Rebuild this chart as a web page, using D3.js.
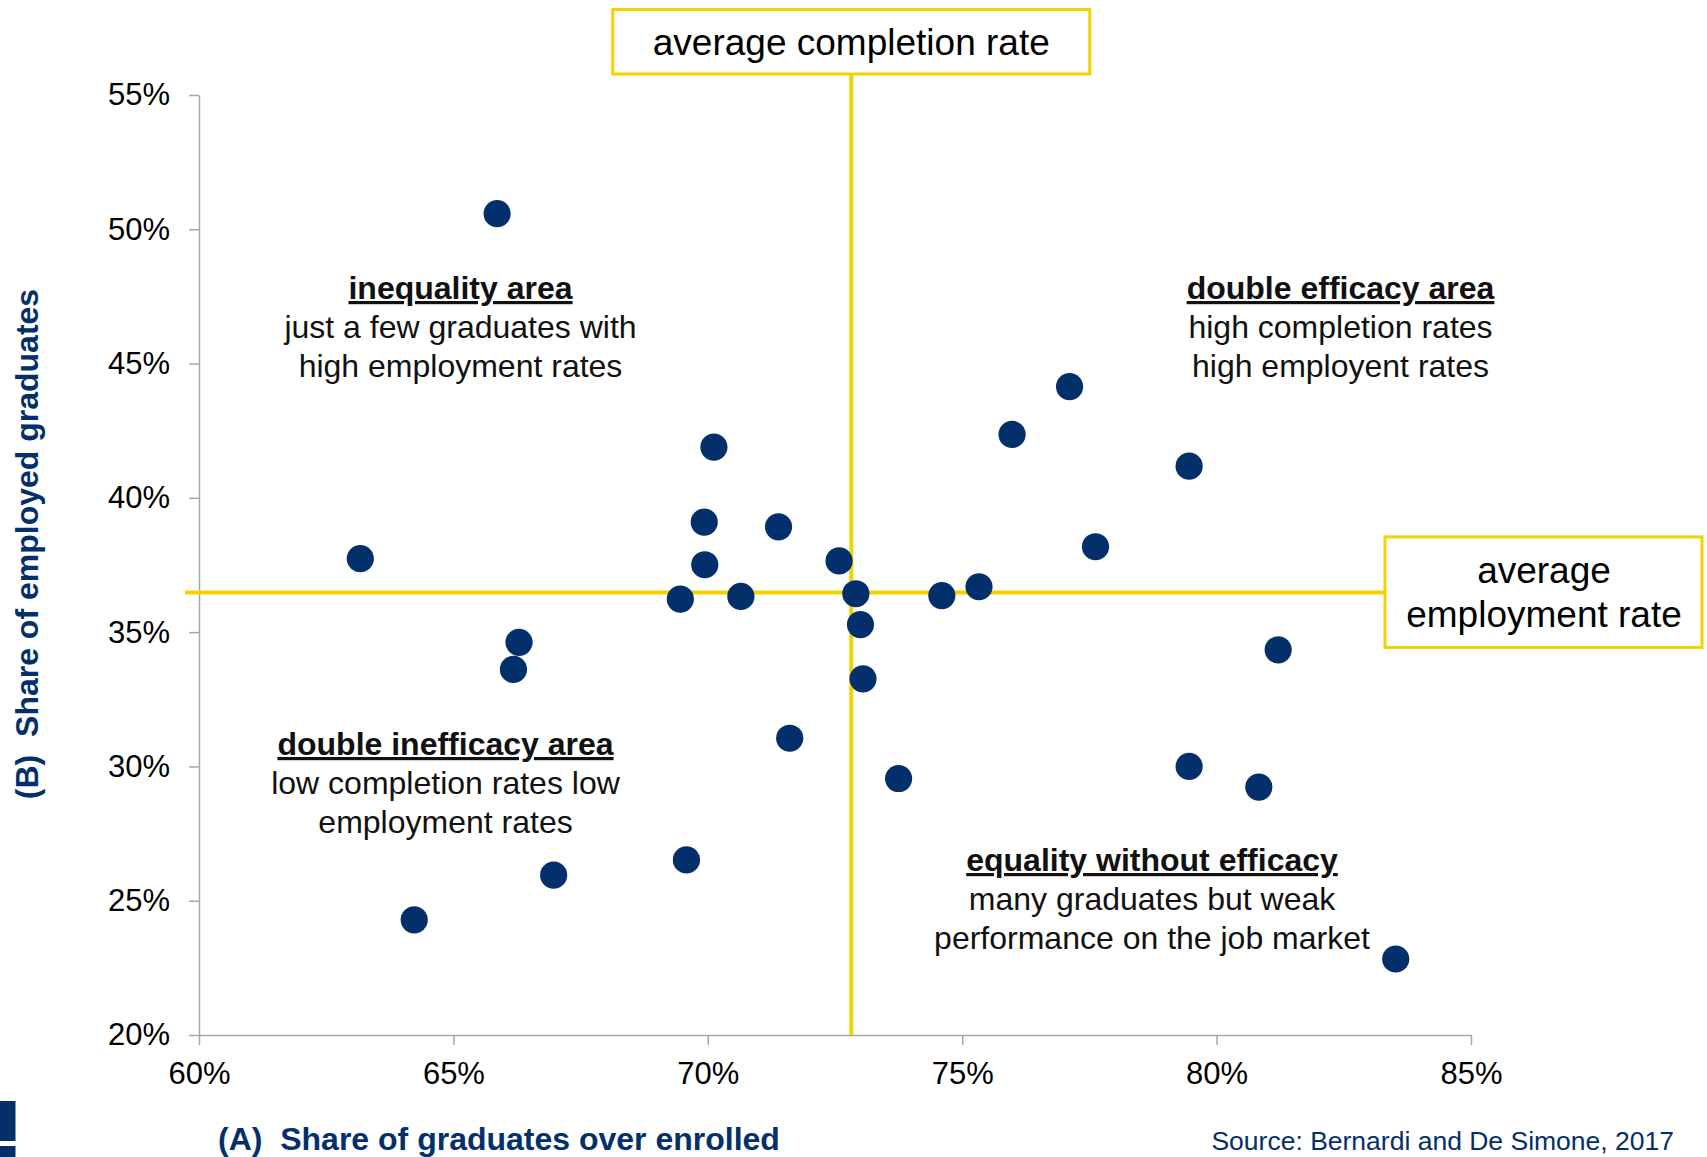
<!DOCTYPE html>
<html>
<head>
<meta charset="utf-8">
<script src="https://cdn.jsdelivr.net/npm/d3@7"></script>
<style>
  body { margin: 0; background: #fff; }
  svg { display: block; font-family: "Liberation Sans", Arial, sans-serif; }
</style>
</head>
<body>
<svg width="1707" height="1157"></svg>
<script>
// completion rate (A) and employment rate (B) per university, in %
var completion = [65.86, 63.17, 66.29, 66.18, 70.12, 69.93, 69.94, 69.46, 70.65, 71.39,
                  72.58, 72.91, 73.00, 73.05, 71.61, 73.75, 69.58, 66.97, 64.23, 74.60,
                  75.33, 75.98, 77.11, 77.62, 79.46, 81.21, 79.46, 80.83, 83.52];
var employment = [50.58, 37.74, 34.62, 33.61, 41.89, 39.10, 37.51, 36.23, 36.33, 38.92,
                  37.65, 36.43, 35.28, 33.26, 31.05, 29.55, 26.52, 25.95, 24.29, 36.36,
                  36.69, 42.36, 44.14, 38.18, 41.18, 34.34, 30.00, 29.23, 22.83];
var avgCompletion = 72.82;
var avgEmployment = 36.48;

var xTicks = [60, 65, 70, 75, 80, 85];
var yTicks = [20, 25, 30, 35, 40, 45, 50, 55];

var quadrantTitles = ["inequality area", "double efficacy area", "double inefficacy area", "equality without efficacy"];
var quadrantLines = [
  ["just a few graduates with", "high employment rates"],
  ["high completion rates", "high employent rates"],
  ["low completion rates low", "employment rates"],
  ["many graduates but weak", "performance on the job market"]
];

var blue = "#03306b";
var yellow = "#f2d200";

var svg = d3.select("svg");

var x = d3.scaleLinear().domain([60, 85]).range([199, 1471]);
var y = d3.scaleLinear().domain([20, 55]).range([1035, 95]);

// axes
var xAxis = svg.append("g")
    .attr("transform", "translate(0," + y(20) + ")")
    .call(d3.axisBottom(x).tickValues(xTicks).tickSize(10).tickSizeOuter(0)
        .tickPadding(17).tickFormat(function(d) { return d + "%"; }));
var yAxis = svg.append("g")
    .attr("transform", "translate(" + x(60) + ",0)")
    .call(d3.axisLeft(y).tickValues(yTicks).tickSize(10).tickSizeOuter(0)
        .tickPadding(19).tickFormat(function(d) { return d + "%"; }));

[xAxis, yAxis].forEach(function(g) {
  g.selectAll("path, line").attr("stroke", "#a6a6a6").attr("stroke-width", 1.5);
  g.selectAll("text").attr("fill", "#000").style("font-size", "31px")
    .style("font-family", "'Liberation Sans', Arial, sans-serif");
});

// average lines
svg.append("line")
    .attr("x1", 185).attr("x2", 1385)
    .attr("y1", y(avgEmployment)).attr("y2", y(avgEmployment))
    .attr("stroke", yellow).attr("stroke-width", 4);
svg.append("line")
    .attr("x1", x(avgCompletion)).attr("x2", x(avgCompletion))
    .attr("y1", 74).attr("y2", y(20))
    .attr("stroke", yellow).attr("stroke-width", 4);

// label boxes
var cx = x(avgCompletion);
svg.append("rect")
    .attr("x", cx - 238.5).attr("y", 9.5).attr("width", 477).attr("height", 64.5)
    .attr("fill", "#fff").attr("stroke", yellow).attr("stroke-width", 3);
svg.append("text")
    .attr("x", cx).attr("y", 54.5).attr("text-anchor", "middle")
    .style("font-size", "37px").text("average completion rate");

var ey = y(avgEmployment);
svg.append("rect")
    .attr("x", 1385).attr("y", ey - 55.5).attr("width", 317).attr("height", 110.5)
    .attr("fill", "#fff").attr("stroke", yellow).attr("stroke-width", 3);
svg.append("text")
    .attr("x", 1544).attr("y", ey - 9).attr("text-anchor", "middle")
    .style("font-size", "37px").text("average");
svg.append("text")
    .attr("x", 1544).attr("y", ey + 35).attr("text-anchor", "middle")
    .style("font-size", "37px").text("employment rate");

// quadrant notes
var notePos = [[460.5, 299], [1340.5, 299], [445.5, 755], [1152, 871]];
quadrantTitles.forEach(function(t, i) {
  var g = svg.append("g").attr("transform", "translate(" + notePos[i][0] + "," + notePos[i][1] + ")");
  g.append("text").attr("text-anchor", "middle")
    .style("font-size", "32px").style("font-weight", "bold")
    .style("text-decoration", "underline").attr("fill", "#111").text(t);
  quadrantLines[i].forEach(function(l, j) {
    g.append("text").attr("text-anchor", "middle").attr("y", 39 * (j + 1))
      .style("font-size", "32px").attr("fill", "#111").text(l);
  });
});

// dots
svg.append("g").selectAll("circle")
    .data(completion)
    .enter()
    .append("circle")
    .attr("cx", function(d) { return x(d); })
    .attr("cy", function(d, i) { return y(employment[i]); })
    .attr("r", 13.6)
    .attr("fill", blue);

// axis titles
svg.append("text")
    .attr("x", 218).attr("y", 1150)
    .attr("fill", blue).style("font-size", "32px").style("font-weight", "bold")
    .style("white-space", "pre").text("(A)  Share of graduates over enrolled");
svg.append("text")
    .attr("transform", "translate(38,544) rotate(-90)")
    .attr("text-anchor", "middle")
    .attr("fill", blue).style("font-size", "32px").style("font-weight", "bold")
    .style("white-space", "pre").text("(B)  Share of employed graduates");

svg.append("text")
    .attr("x", 1674).attr("y", 1150).attr("text-anchor", "end")
    .attr("fill", blue).style("font-size", "26.5px")
    .text("Source: Bernardi and De Simone, 2017");

// logo fragment at bottom left
svg.append("rect").attr("x", 0).attr("y", 1101).attr("width", 15.5).attr("height", 40).attr("fill", blue);
svg.append("rect").attr("x", 0).attr("y", 1146).attr("width", 15.5).attr("height", 11).attr("fill", blue);
</script>
</body>
</html>
